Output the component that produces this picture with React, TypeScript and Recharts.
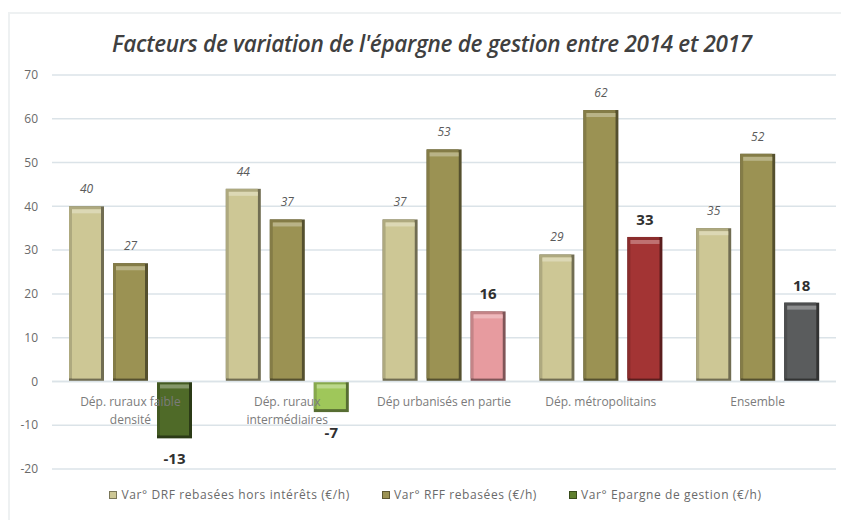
import React from 'react';
import { BarChart, Bar, XAxis, YAxis, CartesianGrid, Cell, LabelList, Legend, ReferenceLine } from 'recharts';

const categories = [
  'Dép. ruraux faible densité',
  'Dép. ruraux intermédiaires',
  'Dép urbanisés en partie',
  'Dép. métropolitains',
  'Ensemble',
];
const categoryLines = [
  ['Dép. ruraux faible', 'densité'],
  ['Dép. ruraux', 'intermédiaires'],
  ['Dép urbanisés en partie'],
  ['Dép. métropolitains'],
  ['Ensemble'],
];
const drfValues = [40, 44, 37, 29, 35];
const rffValues = [27, 37, 53, 62, 52];
const epargneValues = [-13, -7, 16, 33, 18];
const yTicks = [-20, -10, 0, 10, 20, 30, 40, 50, 60, 70];

const SERIES = [
  { key: 'drf', name: 'Var° DRF rebasées hors intérêts (€/h)', color: '#cdc795' },
  { key: 'rff', name: 'Var° RFF rebasées (€/h)', color: '#9b9253' },
  { key: 'epargne', name: 'Var° Epargne de gestion (€/h)', color: '#5f7f2e' },
];
const EPARGNE_COLORS = ['#4f6a28', '#9fc75a', '#e79b9f', '#a33434', '#5a5c5d'];

const FONT = '"Open Sans", sans-serif';

const data = categories.map((c, i) => ({
  category: c,
  drf: drfValues[i],
  rff: rffValues[i],
  epargne: epargneValues[i],
}));

function shade(hex: string, amt: number) {
  const n = parseInt(hex.slice(1), 16);
  const ch = [(n >> 16) & 255, (n >> 8) & 255, n & 255].map(v =>
    Math.round(amt < 0 ? v * (1 + amt) : v + (255 - v) * amt)
  );
  return '#' + ch.map(v => v.toString(16).padStart(2, '0')).join('');
}

function BevelBar(props: any) {
  const { x, y, width, height, fill } = props;
  if (!width || !height) return null;
  const top = height < 0 ? y + height : y;
  const h = Math.abs(height);
  const e = 3;
  return (
    <g>
      <rect x={x} y={top} width={width} height={h} fill={shade(fill, -0.45)} />
      <rect x={x} y={top} width={width - e} height={h - e} fill={shade(fill, -0.15)} />
      <rect x={x + e} y={top + e} width={width - 2 * e} height={Math.max(0, h - 2 * e)} fill={fill} />
      <rect x={x + e} y={top + e} width={width - 2 * e} height={Math.min(4, Math.max(0, h - 2 * e))} fill={shade(fill, 0.3)} />
    </g>
  );
}

const valueLabel = (big: boolean) => (props: any) => {
  const { x, y, width, height, value } = props;
  const top = height < 0 ? y + height : y;
  const bottom = top + Math.abs(height);
  const ty = value >= 0 ? top - (big ? 12 : 13) : bottom + 26;
  return (
    <text
      x={x + width / 2}
      y={ty}
      textAnchor="middle"
      fontFamily={FONT}
      fontSize={big ? 15 : 12}
      fontWeight={big ? 700 : 400}
      fontStyle={big ? 'normal' : 'italic'}
      fill={big ? '#303030' : '#5a5a5a'}
    >
      {value}
    </text>
  );
};

function CategoryLabels(props: any) {
  const { x, y, width } = props.viewBox;
  const band = width / categories.length;
  return (
    <g>
      {categoryLines.map((lines, i) => (
        <text key={i} x={x + band * (i + 0.5)} y={y + 25} textAnchor="middle" fontFamily={FONT} fontSize={12} fill="#7b7b7b">
          {lines.map((l, j) => (
            <tspan key={j} x={x + band * (i + 0.5)} dy={j === 0 ? 0 : 18}>{l}</tspan>
          ))}
        </text>
      ))}
    </g>
  );
}

function LegendContent() {
  return (
    <div style={{ display: 'flex', justifyContent: 'center', gap: 32, paddingLeft: 30, fontFamily: FONT, fontSize: 12, letterSpacing: 0.6, color: '#6a6a6a', lineHeight: '16px' }}>
      {SERIES.map(s => (
        <div key={s.key} style={{ display: 'flex', alignItems: 'center', gap: 4 }}>
          <span style={{ width: 6, height: 6, background: s.color, border: `1px solid ${shade(s.color, -0.4)}` }} />
          <span>{s.name}</span>
        </div>
      ))}
    </div>
  );
}

export default function App() {
  return (
    <div style={{ position: 'absolute', left: 0, top: 0, width: 841, height: 520, background: '#fff' }}>
      <div style={{ position: 'absolute', left: 8, top: 12, right: 0, bottom: 0, borderTop: '2px solid #eef1f2', borderLeft: '2px solid #eef1f2' }} />
      <div style={{ position: 'absolute', left: 0, width: 864, top: 29, textAlign: 'center', fontFamily: FONT, fontStyle: 'italic', fontWeight: 600, fontSize: 22.5, lineHeight: '30px', color: '#404040', letterSpacing: -0.3 }}>
        Facteurs de variation de l'épargne de gestion entre 2014 et 2017
      </div>
      <BarChart
        width={841}
        height={520}
        data={data}
        margin={{ top: 75, right: 5, left: 0, bottom: 35 }}
        barSize={35}
        barGap={9}
        style={{ position: 'absolute', left: 0, top: 0 }}
      >
        <CartesianGrid vertical={false} stroke="#dbe3e8" strokeWidth={1.5} />
        <XAxis dataKey="category" hide />
        <YAxis
          width={52}
          domain={[-20, 70]}
          ticks={yTicks}
          axisLine={false}
          tickLine={false}
          tickSize={0}
          tickMargin={14}
          tick={{ fontFamily: FONT, fontSize: 12, fill: '#6a6a6a' }}
        />
        <ReferenceLine y={0} stroke="#dbe3e8" strokeWidth={1.5} label={CategoryLabels} />
        <Legend
          verticalAlign="bottom"
          content={LegendContent}
          wrapperStyle={{ bottom: 17, height: 16, left: 0, width: 841 }}
        />
        <Bar dataKey="drf" name={SERIES[0].name} fill={SERIES[0].color} shape={BevelBar} isAnimationActive={false}>
          <LabelList dataKey="drf" content={valueLabel(false)} />
        </Bar>
        <Bar dataKey="rff" name={SERIES[1].name} fill={SERIES[1].color} shape={BevelBar} isAnimationActive={false}>
          <LabelList dataKey="rff" content={valueLabel(false)} />
        </Bar>
        <Bar dataKey="epargne" name={SERIES[2].name} fill={SERIES[2].color} shape={BevelBar} isAnimationActive={false}>
          {data.map((d, i) => (
            <Cell key={d.category} fill={EPARGNE_COLORS[i]} />
          ))}
          <LabelList dataKey="epargne" content={valueLabel(true)} />
        </Bar>
      </BarChart>
    </div>
  );
}
